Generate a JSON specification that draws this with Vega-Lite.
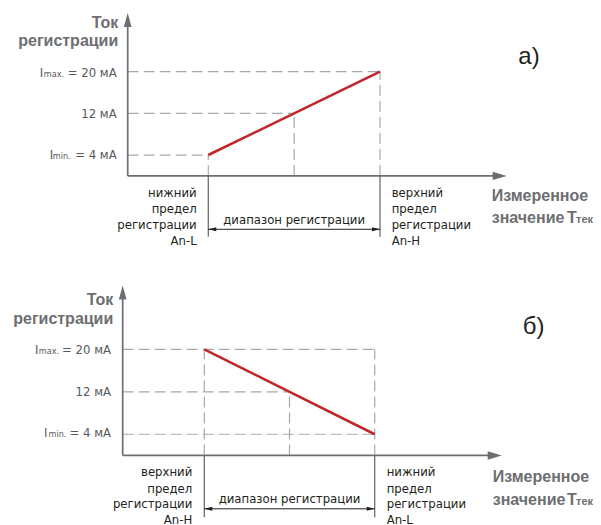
{
  "$schema": "https://vega.github.io/schema/vega-lite/v6.json",
  "padding": 0,
  "spacing": 0,
  "config": {"view": {"stroke": null}},
  "data": {"values": [
    {"p": "a", "k": "frame", "x": -121.32, "y": -16.61, "x2": 228.71, "y2": 33.73},
    {"p": "a", "k": "axis", "x": -46.94, "y": 0, "x2": -46.94, "y2": 29.89},
    {"p": "a", "k": "axis", "x": -46.94, "y": 0, "x2": 169.71, "y2": 0},
    {"p": "a", "k": "up", "x": -46.94, "y": 29.89},
    {"p": "a", "k": "right", "x": 169.71, "y": 0},
    {"p": "a", "k": "dash", "x": -46.94, "y": 20, "x2": 100, "y2": 20},
    {"p": "a", "k": "dash", "x": -46.94, "y": 12, "x2": 50, "y2": 12},
    {"p": "a", "k": "dash", "x": -46.94, "y": 4, "x2": 0, "y2": 4},
    {"p": "a", "k": "dash", "x": 0, "y": 0, "x2": 0, "y2": 4},
    {"p": "a", "k": "dash", "x": 50, "y": 0, "x2": 50, "y2": 12},
    {"p": "a", "k": "dash", "x": 100, "y": 0, "x2": 100, "y2": 20},
    {"p": "a", "k": "red", "x": 0, "y": 4, "x2": 100, "y2": 20},
    {"p": "a", "k": "tick", "x": 0, "y": 0, "x2": 0, "y2": -11.66},
    {"p": "a", "k": "tick", "x": 100, "y": 0, "x2": 100, "y2": -11.66},
    {"p": "a", "k": "range", "x": 0, "y": -10.24, "x2": 100, "y2": -10.24},
    {"p": "a", "k": "rl", "x": 2.3, "y": -10.24},
    {"p": "a", "k": "rr", "x": 97.7, "y": -10.24},
    {"p": "a", "k": "ytitle", "x": -52.42, "y": 29.38, "t": "Ток"},
    {"p": "a", "k": "ytitle", "x": -52.42, "y": 25.93, "t": "регистрации"},
    {"p": "a", "k": "ticklab", "x": -53.35, "y": 18.91, "t": "= 20 мА"},
    {"p": "a", "k": "ticklab", "x": -53.35, "y": 11.16, "t": "12 мА"},
    {"p": "a", "k": "ticklab", "x": -53.35, "y": 3.18, "t": "= 4 мА"},
    {"p": "a", "k": "tickI", "x": -98.19, "y": 18.91, "t": "I"},
    {"p": "a", "k": "tickI", "x": -92.37, "y": 3.18, "t": "I"},
    {"p": "a", "k": "ticksub", "x": -95.81, "y": 18.91, "t": "max."},
    {"p": "a", "k": "ticksub", "x": -90.56, "y": 3.18, "t": "min."},
    {"p": "a", "k": "lblR", "x": -6.76, "y": -3.34, "t": "нижний"},
    {"p": "a", "k": "lblR", "x": -6.76, "y": -6.40, "t": "предел"},
    {"p": "a", "k": "lblR", "x": -6.76, "y": -9.42, "t": "регистрации"},
    {"p": "a", "k": "lblR", "x": -6.76, "y": -12.43, "t": "An-L"},
    {"p": "a", "k": "lblL", "x": 106.81, "y": -3.34, "t": "верхний"},
    {"p": "a", "k": "lblL", "x": 106.81, "y": -6.40, "t": "предел"},
    {"p": "a", "k": "lblL", "x": 106.81, "y": -9.42, "t": "регистрации"},
    {"p": "a", "k": "lblL", "x": 106.81, "y": -12.43, "t": "An-H"},
    {"p": "a", "k": "rangetext", "x": 50, "y": -8.46, "t": "диапазон регистрации"},
    {"p": "a", "k": "xtitle", "x": 165.06, "y": -4.76, "t": "Измеренное"},
    {"p": "a", "k": "xtitle", "x": 165.06, "y": -9.09, "t": "значение"},
    {"p": "a", "k": "xtitle", "x": 208.91, "y": -9.09, "t": "T"},
    {"p": "a", "k": "xsub", "x": 214.15, "y": -9.09, "t": "тек"},
    {"p": "a", "k": "corner", "x": 180.55, "y": 21.55, "t": "а)"},

    {"p": "b", "k": "frame", "x": -119.89, "y": -13.22, "x2": 232.8, "y2": 36.31},
    {"p": "b", "k": "axis", "x": -47.89, "y": 0, "x2": -47.89, "y2": 30.75},
    {"p": "b", "k": "axis", "x": -47.89, "y": 0, "x2": 170.42, "y2": 0},
    {"p": "b", "k": "up", "x": -47.89, "y": 30.75},
    {"p": "b", "k": "right", "x": 170.42, "y": 0},
    {"p": "b", "k": "dash", "x": -47.89, "y": 20, "x2": 100, "y2": 20},
    {"p": "b", "k": "dash", "x": -47.89, "y": 12, "x2": 50, "y2": 12},
    {"p": "b", "k": "dash", "x": -47.89, "y": 4, "x2": 100, "y2": 4},
    {"p": "b", "k": "dash", "x": 0, "y": 0, "x2": 0, "y2": 20},
    {"p": "b", "k": "dash", "x": 50, "y": 0, "x2": 50, "y2": 12},
    {"p": "b", "k": "dash", "x": 100, "y": 0, "x2": 100, "y2": 20},
    {"p": "b", "k": "red", "x": 0, "y": 20, "x2": 100, "y2": 4},
    {"p": "b", "k": "tick", "x": 0, "y": 0, "x2": 0, "y2": -11.65},
    {"p": "b", "k": "tick", "x": 100, "y": 0, "x2": 100, "y2": -11.65},
    {"p": "b", "k": "range", "x": 0, "y": -10.07, "x2": 100, "y2": -10.07},
    {"p": "b", "k": "rl", "x": 2.35, "y": -10.07},
    {"p": "b", "k": "rr", "x": 97.65, "y": -10.07},
    {"p": "b", "k": "ytitle", "x": -53.4, "y": 29.37, "t": "Ток"},
    {"p": "b", "k": "ytitle", "x": -53.4, "y": 25.78, "t": "регистрации"},
    {"p": "b", "k": "ticklab", "x": -54.75, "y": 19.05, "t": "= 20 мА"},
    {"p": "b", "k": "ticklab", "x": -54.75, "y": 11.25, "t": "12 мА"},
    {"p": "b", "k": "ticklab", "x": -54.75, "y": 3.39, "t": "= 4 мА"},
    {"p": "b", "k": "tickI", "x": -99.35, "y": 19.05, "t": "I"},
    {"p": "b", "k": "tickI", "x": -94.07, "y": 3.39, "t": "I"},
    {"p": "b", "k": "ticksub", "x": -97.12, "y": 19.05, "t": "max."},
    {"p": "b", "k": "ticksub", "x": -91.43, "y": 3.39, "t": "min."},
    {"p": "b", "k": "lblR", "x": -7.04, "y": -3.17, "t": "верхний"},
    {"p": "b", "k": "lblR", "x": -7.04, "y": -6.27, "t": "предел"},
    {"p": "b", "k": "lblR", "x": -7.04, "y": -9.25, "t": "регистрации"},
    {"p": "b", "k": "lblR", "x": -7.04, "y": -12.15, "t": "An-H"},
    {"p": "b", "k": "lblL", "x": 107.04, "y": -3.17, "t": "нижний"},
    {"p": "b", "k": "lblL", "x": 107.04, "y": -6.27, "t": "предел"},
    {"p": "b", "k": "lblL", "x": 107.04, "y": -9.25, "t": "регистрации"},
    {"p": "b", "k": "lblL", "x": 107.04, "y": -12.15, "t": "An-L"},
    {"p": "b", "k": "rangetext", "x": 50, "y": -8.18, "t": "диапазон регистрации"},
    {"p": "b", "k": "xtitle", "x": 169.25, "y": -5.05, "t": "Измеренное"},
    {"p": "b", "k": "xtitle", "x": 169.25, "y": -9.44, "t": "значение"},
    {"p": "b", "k": "xtitle", "x": 212.85, "y": -9.44, "t": "T"},
    {"p": "b", "k": "xsub", "x": 218.13, "y": -9.44, "t": "тек"},
    {"p": "b", "k": "corner", "x": 186.85, "y": 22.82, "t": "б)"}
  ]},
  "facet": {"row": {"field": "p", "type": "nominal", "header": null}},
  "resolve": {"scale": {"x": "independent", "y": "independent"}},
  "spec": {
    "width": 601,
    "height": 262.5,
    "encoding": {
      "x": {"field": "x", "type": "quantitative", "axis": null, "scale": {"nice": false, "zero": false, "padding": 0}},
      "y": {"field": "y", "type": "quantitative", "axis": null, "scale": {"nice": false, "zero": false, "padding": 0}}
    },
    "layer": [
      {"transform": [{"filter": "datum.k === 'frame'"}],
       "mark": {"type": "rule", "opacity": 0, "strokeWidth": 0},
       "encoding": {"x2": {"field": "x2"}, "y2": {"field": "y2"}}},
      {"transform": [{"filter": "datum.k === 'dash'"}],
       "mark": {"type": "rule", "color": "#a7a9ac", "strokeWidth": 1.2, "strokeDash": [11, 5]},
       "encoding": {"x2": {"field": "x2"}, "y2": {"field": "y2"}}},
      {"transform": [{"filter": "datum.k === 'axis'"}],
       "mark": {"type": "rule", "color": "#6d6e71", "strokeWidth": 1.7},
       "encoding": {"x2": {"field": "x2"}, "y2": {"field": "y2"}}},
      {"transform": [{"filter": "datum.k === 'tick'"}],
       "mark": {"type": "rule", "color": "#6d6e71", "strokeWidth": 1.3},
       "encoding": {"x2": {"field": "x2"}, "y2": {"field": "y2"}}},
      {"transform": [{"filter": "datum.k === 'range'"}],
       "mark": {"type": "rule", "color": "#231f20", "strokeWidth": 1},
       "encoding": {"x2": {"field": "x2"}, "y2": {"field": "y2"}}},
      {"transform": [{"filter": "datum.k === 'red'"}],
       "mark": {"type": "rule", "color": "#c0272d", "strokeWidth": 2.6},
       "encoding": {"x2": {"field": "x2"}, "y2": {"field": "y2"}}},
      {"transform": [{"filter": "datum.k === 'up'"}],
       "mark": {"type": "point", "shape": "M0,-1L0.55,1L-0.55,1Z", "size": 196, "filled": true, "color": "#6d6e71", "opacity": 1, "strokeWidth": 0}},
      {"transform": [{"filter": "datum.k === 'right'"}],
       "mark": {"type": "point", "shape": "M1,0L-1,-0.6L-1,0.6Z", "size": 196, "filled": true, "color": "#6d6e71", "opacity": 1, "strokeWidth": 0}},
      {"transform": [{"filter": "datum.k === 'rl'"}],
       "mark": {"type": "point", "shape": "M-1,0L1,-0.5L1,0.5Z", "size": 64, "filled": true, "color": "#231f20", "opacity": 1, "strokeWidth": 0}},
      {"transform": [{"filter": "datum.k === 'rr'"}],
       "mark": {"type": "point", "shape": "M1,0L-1,-0.5L-1,0.5Z", "size": 64, "filled": true, "color": "#231f20", "opacity": 1, "strokeWidth": 0}},
      {"transform": [{"filter": "datum.k === 'ytitle'"}],
       "mark": {"type": "text", "align": "right", "baseline": "middle", "font": "Liberation Sans", "fontWeight": "bold", "fontSize": 16, "color": "#6d6e71"},
       "encoding": {"text": {"field": "t"}}},
      {"transform": [{"filter": "datum.k === 'xtitle'"}],
       "mark": {"type": "text", "align": "left", "baseline": "alphabetic", "font": "Liberation Sans", "fontWeight": "bold", "fontSize": 16, "color": "#6d6e71"},
       "encoding": {"text": {"field": "t"}}},
      {"transform": [{"filter": "datum.k === 'xsub'"}],
       "mark": {"type": "text", "align": "left", "baseline": "alphabetic", "font": "Liberation Sans", "fontWeight": "bold", "fontSize": 11, "color": "#6d6e71"},
       "encoding": {"text": {"field": "t"}}},
      {"transform": [{"filter": "datum.k === 'ticklab'"}],
       "mark": {"type": "text", "align": "right", "baseline": "alphabetic", "font": "DejaVu Sans Condensed", "fontSize": 13, "color": "#58595b"},
       "encoding": {"text": {"field": "t"}}},
      {"transform": [{"filter": "datum.k === 'tickI'"}],
       "mark": {"type": "text", "align": "left", "baseline": "alphabetic", "font": "DejaVu Sans Condensed", "fontSize": 13, "color": "#58595b"},
       "encoding": {"text": {"field": "t"}}},
      {"transform": [{"filter": "datum.k === 'ticksub'"}],
       "mark": {"type": "text", "align": "left", "baseline": "alphabetic", "font": "DejaVu Sans Condensed", "fontSize": 9, "color": "#58595b"},
       "encoding": {"text": {"field": "t"}}},
      {"transform": [{"filter": "datum.k === 'lblR'"}],
       "mark": {"type": "text", "align": "right", "baseline": "middle", "font": "DejaVu Sans Condensed", "fontSize": 13, "color": "#231f20"},
       "encoding": {"text": {"field": "t"}}},
      {"transform": [{"filter": "datum.k === 'lblL'"}],
       "mark": {"type": "text", "align": "left", "baseline": "middle", "font": "DejaVu Sans Condensed", "fontSize": 13, "color": "#231f20"},
       "encoding": {"text": {"field": "t"}}},
      {"transform": [{"filter": "datum.k === 'rangetext'"}],
       "mark": {"type": "text", "align": "center", "baseline": "middle", "font": "DejaVu Sans Condensed", "fontSize": 13, "color": "#231f20"},
       "encoding": {"text": {"field": "t"}}},
      {"transform": [{"filter": "datum.k === 'corner'"}],
       "mark": {"type": "text", "align": "left", "baseline": "alphabetic", "font": "Liberation Sans", "fontSize": 24, "color": "#231f20"},
       "encoding": {"text": {"field": "t"}}}
    ]
  }
}
